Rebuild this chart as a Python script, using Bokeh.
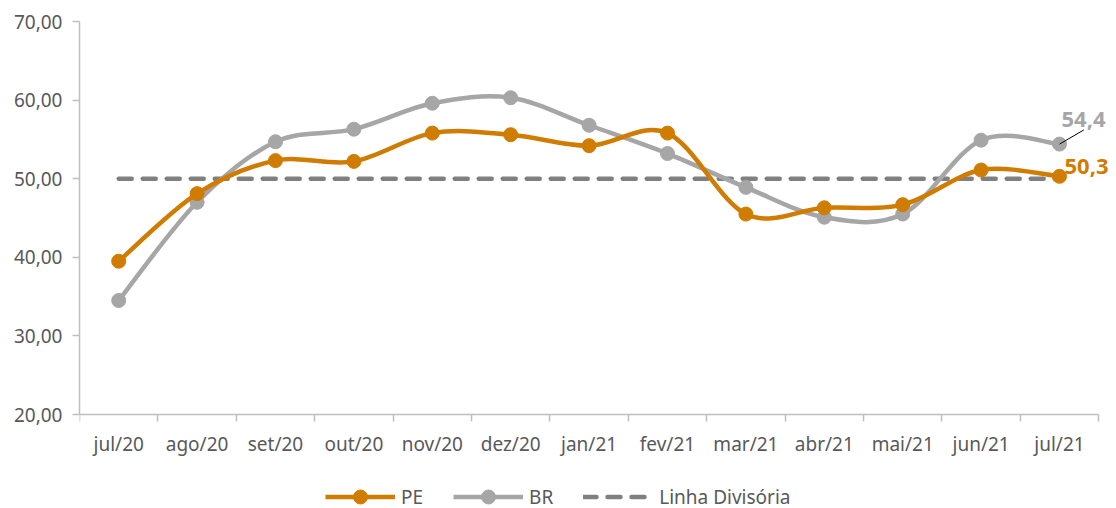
import numpy as np
from bokeh.plotting import figure
from bokeh.models import Range1d, FixedTicker, Legend, LegendItem, Label, ColumnDataSource, LinearAxis
from bokeh.core.properties import value
from bokeh.embed import file_html
from bokeh.resources import INLINE

months = ["jul/20", "ago/20", "set/20", "out/20", "nov/20", "dez/20", "jan/21",
          "fev/21", "mar/21", "abr/21", "mai/21", "jun/21", "jul/21"]
pe = [39.5, 48.1, 52.3, 52.2, 55.8, 55.6, 54.2, 55.8, 45.5, 46.3, 46.7, 51.1, 50.3]
br = [34.5, 47.0, 54.7, 56.3, 59.6, 60.3, 56.8, 53.2, 48.9, 45.1, 45.5, 54.9, 54.4]
divisoria = [50.0] * len(months)
y_ticks = [20, 30, 40, 50, 60, 70]

PE_COLOR = "#D07C00"
BR_COLOR = "#A6A6A6"
DIV_COLOR = "#808080"
TXT = "#595959"
AX = "#BFBFBF"
FONT = "Noto Sans"

xs = list(range(len(months)))
n = len(months)


def smooth(x, y):
    m = len(x)
    d = dict(x0=[], y0=[], x1=[], y1=[], cx0=[], cy0=[], cx1=[], cy1=[])
    for i in range(m - 1):
        a = max(i - 1, 0)
        b = min(i + 2, m - 1)
        d["x0"].append(x[i]); d["y0"].append(y[i])
        d["x1"].append(x[i + 1]); d["y1"].append(y[i + 1])
        d["cx0"].append(x[i] + (x[i + 1] - x[a]) / 6.0)
        d["cy0"].append(y[i] + (y[i + 1] - y[a]) / 6.0)
        d["cx1"].append(x[i + 1] - (x[b] - x[i]) / 6.0)
        d["cy1"].append(y[i + 1] - (y[b] - y[i]) / 6.0)
    return ColumnDataSource(d)


W, H = 1116, 508
LEFT, TOP = 79, 21
CAT = 78.4                      # px per category
PXU = 393 / (y_ticks[-1] - y_ticks[0])   # px per y unit
frame_w = W - LEFT
frame_h = H - TOP

p = figure(width=W, height=H, output_backend="svg", toolbar_location=None,
           x_axis_location=None,
           x_range=Range1d(-0.5, -0.5 + frame_w / CAT),
           y_range=Range1d(y_ticks[-1] - frame_h / PXU, y_ticks[-1]),
           min_border_left=LEFT, min_border_right=0, min_border_top=TOP, min_border_bottom=0)
p.outline_line_color = None
p.xgrid.grid_line_color = None
p.ygrid.grid_line_color = None
p.background_fill_color = "white"
p.border_fill_color = "white"

# category axis (ticks between categories) anchored at y = 20
xax = LinearAxis(fixed_location=y_ticks[0], bounds=(-0.5, n - 0.5),
                 ticker=FixedTicker(ticks=[], minor_ticks=[i - 0.5 for i in range(n + 1)]),
                 axis_line_color=AX, axis_line_width=1.5,
                 minor_tick_line_color=AX, minor_tick_line_width=1.5,
                 minor_tick_in=7, minor_tick_out=0, major_tick_line_color=None)
p.add_layout(xax, "above")

# category labels
p.text(x=xs, y=[y_ticks[0]] * n, text=months, text_align="center", text_baseline="middle",
       y_offset=29, text_font=value(FONT), text_font_size="19px", text_color=TXT)

# dividing line
div_r = p.line(xs, divisoria, line_color=DIV_COLOR, line_width=4.5, line_dash="13 11", line_cap="round")

# series
br_src = smooth(xs, br)
br_b = p.bezier(x0="x0", y0="y0", x1="x1", y1="y1", cx0="cx0", cy0="cy0", cx1="cx1", cy1="cy1",
                source=br_src, line_color=BR_COLOR, line_width=4.5)
br_s = p.scatter(xs, br, size=14, fill_color=BR_COLOR, line_color=BR_COLOR)

pe_src = smooth(xs, pe)
pe_b = p.bezier(x0="x0", y0="y0", x1="x1", y1="y1", cx0="cx0", cy0="cy0", cx1="cx1", cy1="cy1",
                source=pe_src, line_color=PE_COLOR, line_width=4.5)
pe_s = p.scatter(xs, pe, size=14, fill_color=PE_COLOR, line_color=PE_COLOR)

# end labels
last = n - 1
p.add_layout(Label(x=last, y=br[-1], text=f"{br[-1]:.1f}".replace(".", ","), x_offset=2, y_offset=25,
                   text_baseline="alphabetic",
                   text_color=BR_COLOR, text_font=FONT, text_font_size="22px", text_font_style="bold"))
p.add_layout(Label(x=last, y=pe[-1], text=f"{pe[-1]:.1f}".replace(".", ","), x_offset=5, y_offset=10,
                   text_baseline="alphabetic",
                   text_color=PE_COLOR, text_font=FONT, text_font_size="22px", text_font_style="bold"))
p.segment(x0=[last], y0=[br[-1]], x1=[last + 0.31], y1=[br[-1] + 1.8], line_color="black", line_width=1)

# y axis
p.yaxis.bounds = (y_ticks[0], y_ticks[-1])
p.yaxis.ticker = FixedTicker(ticks=y_ticks, minor_ticks=[])
p.yaxis.major_label_overrides = {t: f"{t:.2f}".replace(".", ",") for t in y_ticks}
p.yaxis.major_tick_line_color = AX
p.yaxis.major_tick_in = 0
p.yaxis.major_tick_out = 7
p.yaxis.major_tick_line_width = 1.5
p.yaxis.axis_line_color = AX
p.yaxis.axis_line_width = 1.5
p.yaxis.major_label_text_font = FONT
p.yaxis.major_label_text_font_size = "19px"
p.yaxis.major_label_text_color = TXT
p.yaxis.major_label_standoff = 10

legend = Legend(items=[
    LegendItem(label="PE", renderers=[pe_b, pe_s]),
    LegendItem(label="BR", renderers=[br_b, br_s]),
    LegendItem(label="Linha Divisória", renderers=[div_r]),
], orientation="horizontal", location=(325 - LEFT, -6), border_line_color=None,
    background_fill_alpha=0,
    label_text_font=FONT, label_text_font_size="19px", label_text_color=TXT,
    glyph_width=70, glyph_height=35, label_standoff=6, spacing=30, margin=0, padding=0)
p.add_layout(legend)

open("out.html", "w").write(file_html(p, INLINE))
